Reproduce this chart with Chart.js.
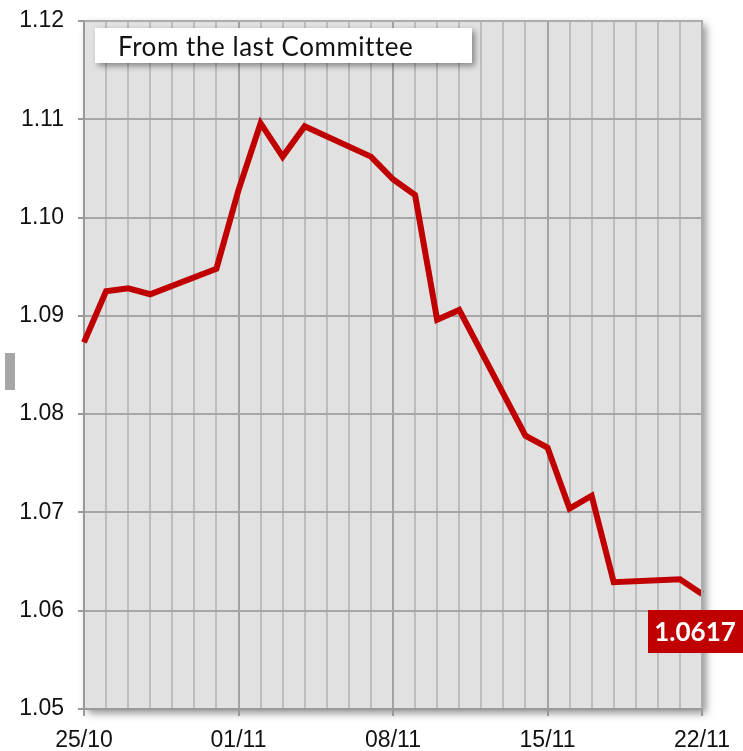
<!DOCTYPE html>
<html>
<head>
<meta charset="utf-8">
<script src="https://cdn.jsdelivr.net/npm/chart.js@4/dist/chart.umd.min.js"></script>
<style>
  html, body { margin: 0; padding: 0; background: #fff; }
  #wrap { width: 743px; height: 751px; }
</style>
</head>
<body>
<div id="wrap"><canvas id="fxChart" width="743" height="751"></canvas></div>
<script>
// dates shown on the x axis (one per day, weekends have no value)
const days = [
  "25/10", "26/10", "27/10", "28/10", "29/10", "30/10", "31/10",
  "01/11", "02/11", "03/11", "04/11", "05/11", "06/11", "07/11",
  "08/11", "09/11", "10/11", "11/11", "12/11", "13/11", "14/11",
  "15/11", "16/11", "17/11", "18/11", "19/11", "20/11", "21/11", "22/11"
];
// EUR/USD closes
const rate = [
  1.0873, 1.0925, 1.0928, 1.0922, null, null, 1.0948,
  1.1028, 1.1096, 1.1062, 1.1093, null, null, 1.1062,
  1.1039, 1.1023, 1.0896, 1.0906, null, null, 1.0778,
  1.0766, 1.0704, 1.0717, 1.0629, null, null, 1.0632, 1.0617
];
const yTicks = [1.05, 1.06, 1.07, 1.08, 1.09, 1.10, 1.11, 1.12];
const boxText = "From the last Committee";
const lastLabel = "1.0617";

const RED = "#c00000";

// plot background, shadow, borders and the two text boxes
const decor = {
  id: "decor",
  beforeDraw(chart) {
    const { ctx, chartArea: a } = chart;
    ctx.save();
    ctx.shadowColor = "rgba(0,0,0,0.45)";
    ctx.shadowBlur = 8;
    ctx.shadowOffsetX = 4;
    ctx.shadowOffsetY = 4;
    ctx.fillStyle = "#e1e1e1";
    ctx.fillRect(a.left, a.top, a.right - a.left, a.bottom - a.top);
    ctx.restore();
    // small grey bar left of the axis
    ctx.fillStyle = "#a6a6a6";
    ctx.fillRect(5, 353, 10, 37);
  },
  afterDatasetsDraw(chart) {
    const { ctx, chartArea: a, scales } = chart;
    ctx.save();
    // top and right frame
    ctx.strokeStyle = "#acacac";
    ctx.lineWidth = 2;
    ctx.beginPath();
    ctx.moveTo(a.left, a.top);
    ctx.lineTo(a.right, a.top);
    ctx.lineTo(a.right, a.bottom);
    ctx.stroke();

    // "From the last Committee" box
    const bx = a.left + 11, by = a.top + 7, bw = 377, bh = 35;
    ctx.save();
    ctx.shadowColor = "rgba(0,0,0,0.4)";
    ctx.shadowBlur = 6;
    ctx.shadowOffsetX = 3;
    ctx.shadowOffsetY = 3;
    ctx.fillStyle = "#fff";
    ctx.fillRect(bx, by, bw, bh);
    ctx.restore();
    ctx.fillStyle = "#111";
    ctx.font = "26px Lato";
    ctx.textBaseline = "alphabetic";
    ctx.textAlign = "left";
    const target = 294;
    const w0 = ctx.measureText(boxText).width;
    ctx.letterSpacing = ((target - w0) / (boxText.length - 1)).toFixed(2) + "px";
    ctx.fillText(boxText, bx + 23, by + 28);
    ctx.letterSpacing = "0px";

    // last value tag
    const lx = scales.x.getPixelForValue(days.length - 1);
    const ly = scales.y.getPixelForValue(rate[rate.length - 1]);
    ctx.fillStyle = RED;
    ctx.fillRect(lx - 54, ly + 16, 95, 43);
    ctx.fillStyle = "#fff";
    ctx.font = "bold 26px Lato";
    ctx.textAlign = "center";
    ctx.textBaseline = "middle";
    ctx.fillText(lastLabel, lx - 54 + 47, ly + 16 + 23);
    ctx.restore();
  }
};

const ctx = document.getElementById("fxChart").getContext("2d");
new Chart(ctx, {
  type: "line",
  data: {
    labels: days,
    datasets: [{
      data: rate,
      borderColor: RED,
      borderWidth: 6,
      pointRadius: 0,
      tension: 0,
      spanGaps: true,
      borderJoinStyle: "miter"
    }]
  },
  options: {
    responsive: false,
    animation: false,
    layout: { padding: { top: 21, right: 41, left: 0, bottom: 0 } },
    plugins: { legend: { display: false }, tooltip: { enabled: false } },
    scales: {
      x: {
        offset: false,
        afterFit(s) { s.height = 42; s.paddingLeft = 0; s.paddingRight = 0; },
        border: { color: "#999", width: 2 },
        grid: {
          lineWidth: 2,
          tickLength: 7,
          color: (c) => (c.index % 7 === 0 ? "#a2a2a2" : "#bdbdbd"),
          tickColor: (c) => (c.index % 7 === 0 ? "#999" : "rgba(0,0,0,0)")
        },
        ticks: {
          autoSkip: false,
          maxRotation: 0,
          padding: 11,
          color: "#111",
          font: { family: "'Liberation Sans', Arial", size: 23 },
          callback: (v, i) => (i % 7 === 0 ? days[i] : "")
        }
      },
      y: {
        min: 1.05,
        max: 1.12,
        afterFit(s) { s.width = 84; s.paddingTop = 0; s.paddingBottom = 0; },
        afterBuildTicks(s) { s.ticks = yTicks.map((v) => ({ value: v })); },
        border: { color: "#999", width: 2 },
        grid: { lineWidth: 2, tickLength: 6, color: "#a6a6a6", tickColor: "#999" },
        ticks: {
          padding: 14,
          color: "#111",
          font: { family: "'Liberation Sans', Arial", size: 23 },
          callback: (v) => Number(v).toFixed(2)
        }
      }
    }
  },
  plugins: [decor]
});
</script>
</body>
</html>
